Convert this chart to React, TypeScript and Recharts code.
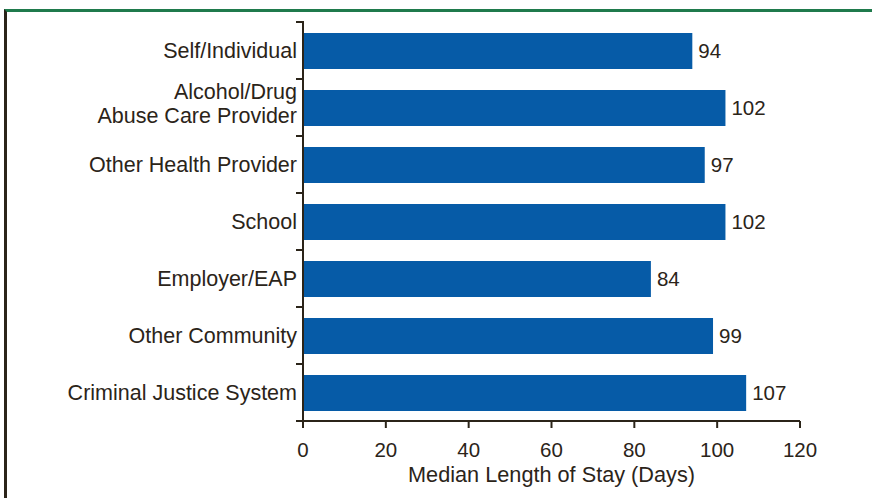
import { BarChart, Bar, XAxis, YAxis, LabelList, Label } from 'recharts'

const categories = [
  'Self/Individual',
  'Alcohol/Drug\nAbuse Care Provider',
  'Other Health Provider',
  'School',
  'Employer/EAP',
  'Other Community',
  'Criminal Justice System'
]
const medianDays = [94, 102, 97, 102, 84, 99, 107]
const xTicks = [0, 20, 40, 60, 80, 100, 120]

const INK = '#2b2419'
const BAR_BLUE = '#065ba7'
const FRAME_GREEN = '#1f7a4c'
const FONT = '"Liberation Sans", Arial, Helvetica, sans-serif'

const chartData = categories.map((name, i) => ({ name, days: medianDays[i] }))

// y-axis ticks sit on the band boundaries, labels stay centred on the band
function CategoryTick(props: any) {
  const { x, y, payload, index, visibleTicksCount } = props
  const half = payload?.offset || 28.5
  const lines = String(payload.value).split('\n')
  const isLast = index === (visibleTicksCount ?? categories.length) - 1
  return (
    <g>
      <line x1={x - 1} x2={x + 7} y1={y - half} y2={y - half} stroke={INK} strokeWidth={2} />
      {isLast && (
        <line x1={x - 1} x2={x + 7} y1={y + half} y2={y + half} stroke={INK} strokeWidth={2} />
      )}
      <text x={x} y={y} textAnchor="end" fill={INK} fontSize={21.5} fontFamily={FONT}>
        {lines.length === 1 ? (
          <tspan x={x} dy={7.7}>{lines[0]}</tspan>
        ) : (
          lines.map((line, i) => (
            <tspan key={line} x={x} dy={i === 0 ? -8.3 : 23.5}>
              {line}
            </tspan>
          ))
        )}
      </text>
    </g>
  )
}

export default function App() {
  return (
    <div style={{ position: 'absolute', left: 0, top: 0, width: 872, height: 498, background: '#fff' }}>
      <div
        style={{
          position: 'absolute',
          left: 4,
          top: 9,
          width: 868,
          height: 489,
          borderTop: `3px solid ${FRAME_GREEN}`,
          borderLeft: `3px solid ${INK}`,
          boxSizing: 'border-box'
        }}
      />
      <div style={{ position: 'absolute', left: 0, top: 0 }}>
        <BarChart
          width={872}
          height={498}
          data={chartData}
          layout="vertical"
          margin={{ top: 22, right: 72, bottom: 0, left: 0 }}
          style={{ fontFamily: FONT }}>
          <XAxis
            type="number"
            domain={[0, 120]}
            ticks={xTicks}
            height={77}
            tickSize={7}
            tickMargin={14}
            axisLine={{ stroke: INK, strokeWidth: 2 }}
            tickLine={{ stroke: INK, strokeWidth: 2 }}
            tick={{ fill: INK, fontSize: 20.5, fontFamily: FONT }}>
            <Label
              value="Median Length of Stay (Days)"
              position="insideBottom"
              offset={16}
              fill={INK}
              fontSize={21.7}
              fontFamily={FONT}
            />
          </XAxis>
          <YAxis
            type="category"
            dataKey="name"
            width={303}
            tickSize={6}
            tickMargin={0}
            tickLine={false}
            interval={0}
            axisLine={{ stroke: INK, strokeWidth: 2 }}
            tick={<CategoryTick />}
          />
          <Bar dataKey="days" fill={BAR_BLUE} barSize={36} isAnimationActive={false}>
            <LabelList
              dataKey="days"
              position="right"
              offset={6}
              fill={INK}
              fontSize={20.5}
              fontFamily={FONT}
            />
          </Bar>
        </BarChart>
      </div>
    </div>
  )
}
